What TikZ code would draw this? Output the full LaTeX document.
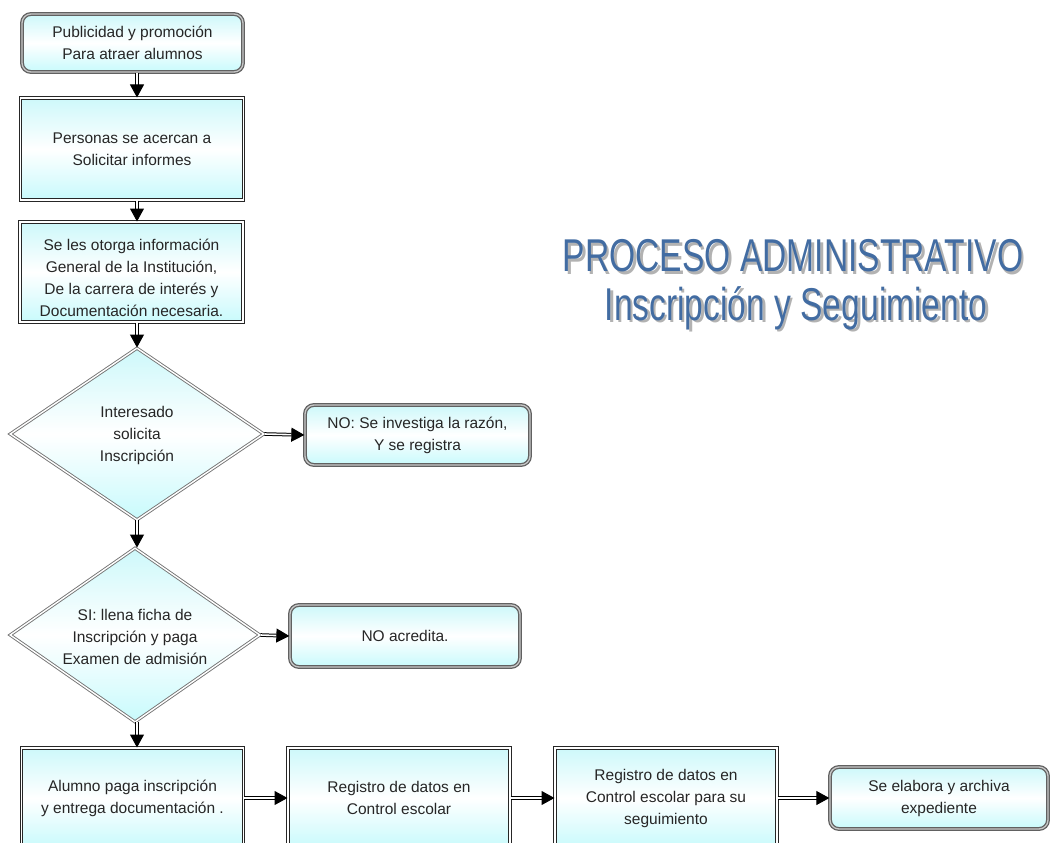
\documentclass[tikz,border=0pt]{standalone}
\usepackage{fontspec}
\setmainfont{Liberation Sans}
\usepackage{graphicx}
\usetikzlibrary{shapes.geometric,arrows.meta}
\definecolor{fillTop}{RGB}{205,248,250}
\definecolor{fillBot}{RGB}{200,250,252}
\definecolor{titleBlue}{RGB}{66,108,162}
\tikzset{
  fillgrad/.style={top color=fillTop, bottom color=fillBot, middle color=white},
  procbox/.style={rectangle, draw=black!85, double=white, double distance=1.6pt,
    line width=1pt, fillgrad, inner sep=0pt, lbl},
  roundbox/.style={rectangle, rounded corners=9pt, draw=black!62, double=black!22,
    double distance=1.3pt, line width=1.3pt, fillgrad, inner sep=0pt, lbl},
  decision/.style={diamond, draw=black!55, double=white, double distance=1.4pt,
    line width=0.9pt, fillgrad, inner sep=0pt},
  flow/.style={draw=black, double=white, double distance=1.6pt, line width=1pt,
    -{Triangle[length=13pt,width=14pt]}},
  lbl/.style={font=\fontsize{15.5}{22}\selectfont, align=center, text=black!85},
  titletext/.style={font=\fontsize{46}{50}\selectfont, text=titleBlue, inner sep=0pt},
  titleshadow/.style={font=\fontsize{46}{50}\selectfont, text=black!30, inner sep=0pt}
}
\begin{document}
\begin{tikzpicture}[x=1pt,y=-1pt]
\useasboundingbox (0,0) rectangle (1050,843);

% main column
\node[roundbox, minimum width=221, minimum height=58] (b1) at (132.5,43)
  {Publicidad y promoción\\Para atraer alumnos};
\node[procbox, minimum width=223, minimum height=102] (b2) at (132,149)
  {Personas se acercan a\\Solicitar informes};
\node[procbox, minimum width=223, minimum height=100] (b3) at (131.5,272) {};
\node[lbl] (b3t) at (131.5,278)
  {Se les otorga información\\General de la Institución,\\De la carrera de interés y\\Documentación necesaria.};

\node[decision, minimum width=254, minimum height=172] (d1) at (137,434) {};
\node[lbl] (d1t) at (137,435) {Interesado\\solicita\\Inscripción};
\node[roundbox, minimum width=225, minimum height=60] (n1) at (417.5,435)
  {NO: Se investiga la razón,\\Y se registra};

\node[decision, minimum width=250, minimum height=174] (d2) at (135,635) {};
\node[lbl] (d2t) at (135,637) {SI: llena ficha de\\Inscripción y paga\\Examen de admisión};
\node[roundbox, minimum width=230, minimum height=62] (n2) at (405,636) {NO acredita.};

% bottom row
\node[procbox, minimum width=222, minimum height=100] (b4) at (132.5,798)
  {Alumno paga inscripción\\y entrega documentación .};
\node[procbox, minimum width=222, minimum height=100] (b5) at (399,798)
  {Registro de datos en\\Control escolar};
\node[procbox, minimum width=222, minimum height=100] (b6) at (666,798)
  {Registro de datos en\\Control escolar para su\\seguimiento};
\node[roundbox, minimum width=218, minimum height=62] (n3) at (939,798)
  {Se elabora y archiva\\expediente};

% connectors
\draw[flow] (b1.south -| d1.north) -- (b2.north -| d1.north);
\draw[flow] (b2.south -| d1.north) -- (b3.north -| d1.north);
\draw[flow] (b3.south -| d1.north) -- (d1.north);
\draw[flow] (d1.east) -- (n1.west);
\draw[flow] (d1.south) -- (d2.north -| d1.south);
\draw[flow] (d2.east) -- (n2.west);
\draw[flow] (d2.south -| d1.south) -- (b4.north -| d1.south);
\draw[flow] (b4.east) -- (b5.west);
\draw[flow] (b5.east) -- (b6.west);
\draw[flow] (b6.east) -- (n3.west);

% title with its drop shadow
\node[titleshadow] (t1s) at (795.5,258.5) {\scalebox{0.73}[1]{PROCESO ADMINISTRATIVO}};
\node[titletext] (t1) at (793,256) {\scalebox{0.73}[1]{PROCESO ADMINISTRATIVO}};
\node[titleshadow] (t2s) at (798.5,310.5) {\scalebox{0.73}[1]{Inscripción y Seguimiento}};
\node[titletext] (t2) at (796,308) {\scalebox{0.73}[1]{Inscripción y Seguimiento}};
\end{tikzpicture}
\end{document}
